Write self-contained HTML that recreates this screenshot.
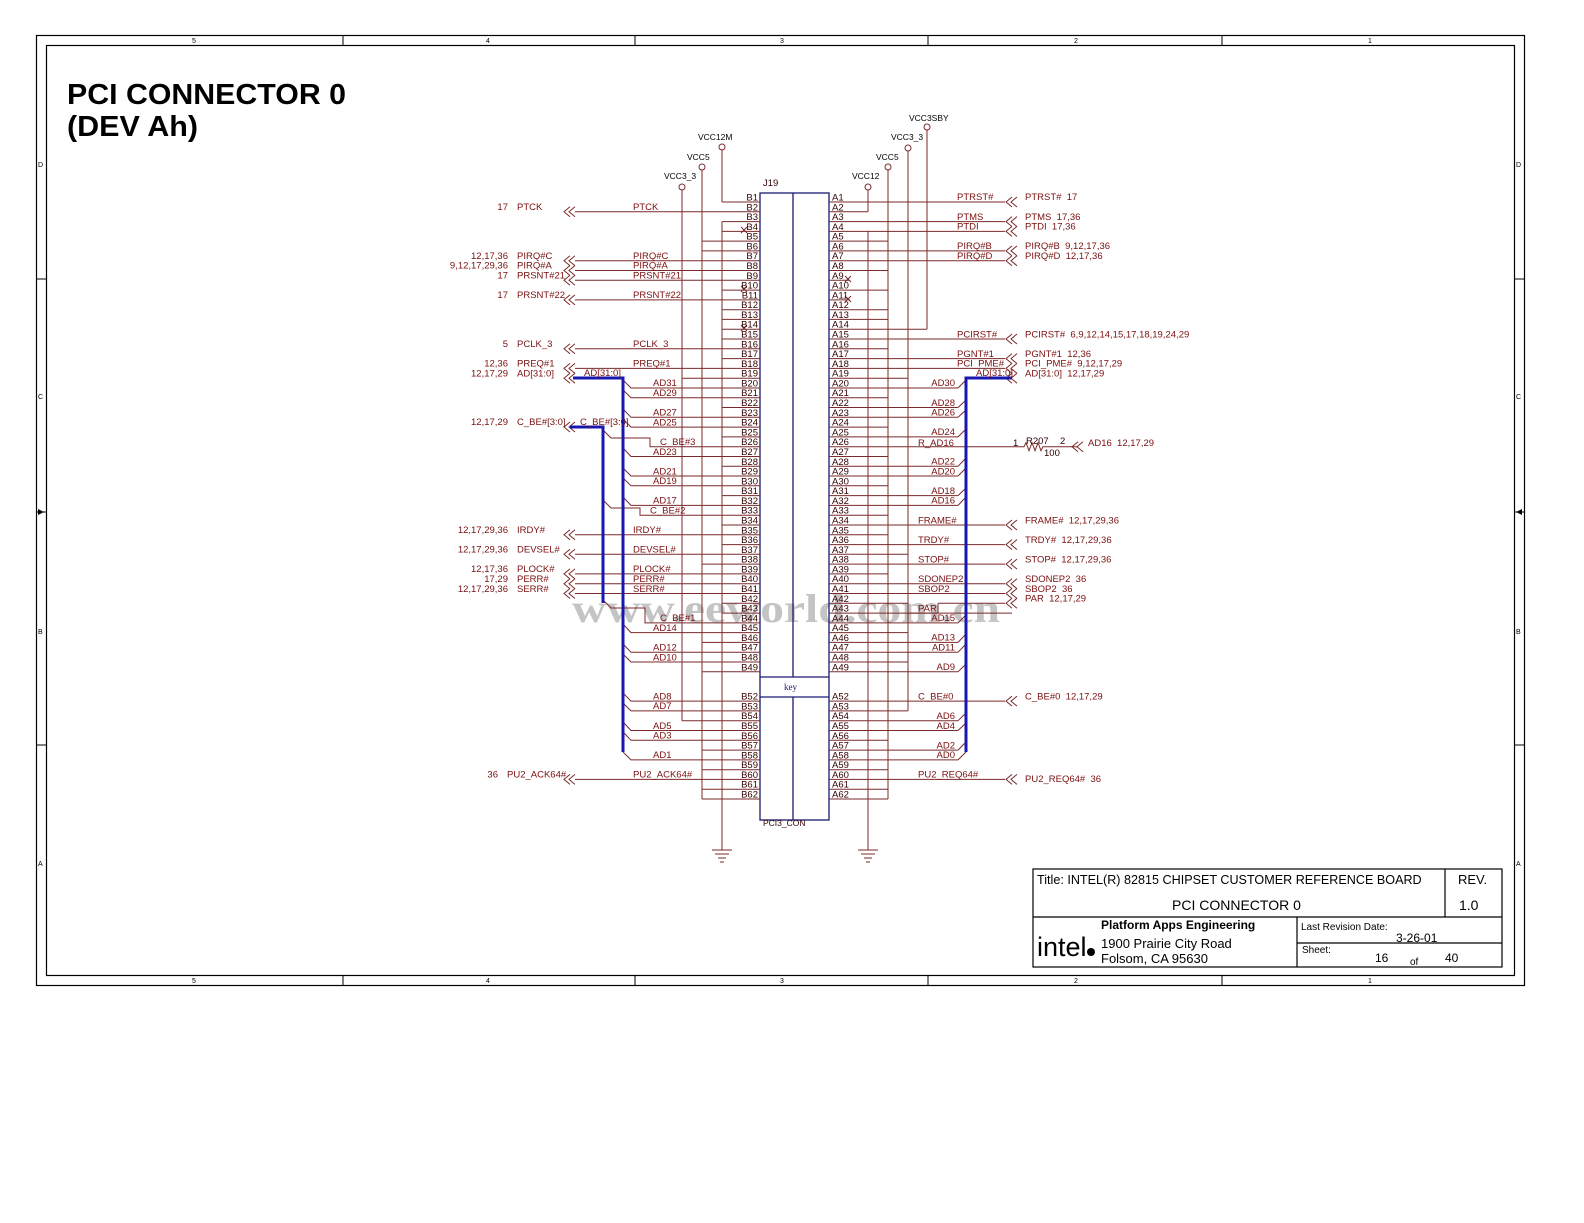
<!DOCTYPE html>
<html><head><meta charset="utf-8"><style>
html,body{margin:0;padding:0;background:#fff}
svg{display:block}
text{font-family:"Liberation Sans",sans-serif}
.t{font-size:9.5px;fill:#7a1010}
.p{font-size:9.5px;fill:#300}
.k{font-size:10px;fill:#000}
</style></head><body>
<svg width="1584" height="1223" viewBox="0 0 1584 1223" xmlns="http://www.w3.org/2000/svg">
<rect x="36.5" y="35.5" width="1488" height="950" fill="none" stroke="#000" stroke-width="1.2"/>
<rect x="46.5" y="45.5" width="1468" height="930" fill="none" stroke="#000" stroke-width="1.2"/>
<g stroke="#000" stroke-width="1">
<path d="M343 36V46M635 36V46M928 36V46M1222 36V46M343 975V985M635 975V985M928 975V985M1222 975V985M36 279H46M36 512H46M36 745H46M1514 279H1524M1514 512H1524M1514 745H1524"/>
</g>
<g class="k" font-size="7px" style="font-size:7px">
<text x="192" y="43">5</text><text x="486" y="43">4</text><text x="780" y="43">3</text><text x="1074" y="43">2</text><text x="1368" y="43">1</text>
<text x="192" y="983">5</text><text x="486" y="983">4</text><text x="780" y="983">3</text><text x="1074" y="983">2</text><text x="1368" y="983">1</text>
<text x="38" y="167">D</text><text x="38" y="399">C</text><text x="38" y="634">B</text><text x="38" y="866">A</text>
<text x="1516" y="167">D</text><text x="1516" y="399">C</text><text x="1516" y="634">B</text><text x="1516" y="866">A</text>
</g>
<path d="M38 509l6 3-6 3zM1522 509l-6 3 6 3z" fill="#000"/>
<text x="67" y="104" textLength="279" lengthAdjust="spacingAndGlyphs" style="font-size:29px;font-weight:bold" fill="#000">PCI CONNECTOR 0</text>
<text x="67" y="136" textLength="131" lengthAdjust="spacingAndGlyphs" style="font-size:29px;font-weight:bold" fill="#000">(DEV Ah)</text>

<text x="572" y="622" textLength="428" lengthAdjust="spacingAndGlyphs" style="font-family:'Liberation Serif',serif;font-size:40px;font-weight:bold" fill="#c4c4c4">www.eeworld.com.cn</text>

<g stroke="#1a1a70" stroke-width="1.3" fill="none">
<rect x="760" y="193" width="69" height="627"/>
<path d="M793 193V677M793 697V820M760 677H829M760 697H829"/>
</g>
<text x="784" y="690" style="font-size:9px;font-family:'Liberation Serif',serif" fill="#1a1a70">key</text>
<text x="763" y="186" class="p">J19</text>
<text x="763" y="826" class="p" style="font-size:8.5px">PCI3_CON</text>

<g stroke="#7a2a2a" stroke-width="1" fill="none">
<path d="M722 202H760M722 211.8H760M722 221.6H760M722 231.4H760M702 241.1H760M702 250.9H760M722 260.7H760M722 270.5H760M722 280.3H760M722 290.1H760M722 299.9H760M722 309.7H760M722 319.4H760M722 329.2H760M722 339H760M722 348.8H760M722 358.6H760M722 368.4H760M682 378.2H760M722 388H760M722 397.7H760M722 407.5H760M722 417.3H760M722 427.1H760M722 436.9H760M722 446.7H760M722 456.5H760M722 466.3H760M722 476H760M722 485.8H760M722 495.6H760M722 505.4H760M722 515.2H760M722 525H760M722 534.8H760M722 544.6H760M722 554.3H760M702 564.1H760M722 573.9H760M722 583.7H760M722 593.5H760M722 603.3H760M722 613.1H760M722 622.9H760M722 632.6H760M702 642.4H760M722 652.2H760M722 662H760M702 671.8H760M722 701.1H760M722 710.9H760M682 720.7H760M722 730.5H760M722 740.3H760M702 750.1H760M722 759.9H760M702 769.7H760M722 779.4H760M702 789.2H760M702 799H760"/>
<path d="M829 202H1005M829 211.8H868M829 221.6H1005M829 231.4H1005M829 241.1H888M829 250.9H1005M829 260.7H1005M829 270.5H888M829 280.3H850M829 290.1H888M829 299.9H850M829 309.7H888M829 319.4H888M829 329.2H927M829 339H1005M829 348.8H888M829 358.6H1005M829 368.4H1005M829 378.2H908M829 388H958M829 397.7H888M829 407.5H958M829 417.3H958M829 427.1H888M829 436.9H958M829 446.7H1013M829 456.5H888M829 466.3H958M829 476H958M829 485.8H888M829 495.6H958M829 505.4H958M829 515.2H888M829 525H1005M829 534.8H888M829 544.6H1005M829 554.3H908M829 564.1H1005M829 573.9H888M829 583.7H1005M829 593.5H1005M829 603.3H908M829 613.1H1005M829 622.9H958M829 632.6H908M829 642.4H958M829 652.2H958M829 662H908M829 671.8H958M829 701.1H1005M829 710.9H908M829 720.7H958M829 730.5H958M829 740.3H888M829 750.1H958M829 759.9H958M829 769.7H888M829 779.4H1005M829 789.2H888M829 799H888"/>
<path d="M575 211.8H722M575 260.7H722M575 270.5H722M575 280.3H722M575 299.9H722M575 348.8H722M575 368.4H722M575 534.8H722M575 554.3H722M575 573.9H722M575 583.7H722M575 593.5H722M575 779.4H722"/>
<path d="M623 380L631 388H722M623 390L631 397.7H722M623 409L631 417.3H722M623 419L631 427.1H722M623 448L631 456.5H722M623 468L631 476H722M623 478L631 485.8H722M623 497L631 505.4H722M623 624L631 632.6H722M623 644L631 652.2H722M623 654L631 662H722M623 693L631 701.1H722M623 703L631 710.9H722M623 722L631 730.5H722M623 732L631 740.3H722M623 752L631 759.9H722"/>
<path d="M603 430L611 438H650V446.7H722M603 500L611 508H640V515.2H722M603 600L611 608H645V622.9H722"/>
<path d="M958 388L966 380M958 407.5L966 400M958 417.3L966 410M958 436.9L966 429M958 466.3L966 458M958 476L966 468M958 495.6L966 488M958 505.4L966 497M958 622.9L966 615M958 642.4L966 634M958 652.2L966 644M958 671.8L966 664M958 720.7L966 713M958 730.5L966 723M958 750.1L966 742M958 759.9L966 752"/>
<path d="M908 613.1H938V603.3"/>
<path d="M682 190V720.7M702 170V799M722 150V202M722 221.6V850M868 190V211.8M868 231.4V850M888 170V799M908 151V710.9M927 130V329.2"/>
<path d="M1013 446.7H1024l2-4 3 8 3-8 3 8 3-8 3 8 2-4H1078"/>
<path d="M741 227l6 6M747 227l-6 6M741 286l6 6M747 286l-6 6M741 325l6 6M747 325l-6 6M845 276l6 6M851 276l-6 6M845 296l6 6M851 296l-6 6"/>
<path d="M712 850H732M715 854H729M718 858H726M720 862H724M858 850H878M861 854H875M864 858H872M866 862H870"/>
<path d="M575 206.8l-6 5 6 5M570 206.8l-6 5 6 5M575 255.7l-6 5 6 5M570 255.7l-6 5 6 5M575 265.5l-6 5 6 5M570 265.5l-6 5 6 5M575 275.3l-6 5 6 5M570 275.3l-6 5 6 5M575 294.9l-6 5 6 5M570 294.9l-6 5 6 5M575 343.8l-6 5 6 5M570 343.8l-6 5 6 5M575 363.4l-6 5 6 5M570 363.4l-6 5 6 5M575 373.2l-6 5 6 5M570 373.2l-6 5 6 5M575 422l-6 5 6 5M570 422l-6 5 6 5M575 529.8l-6 5 6 5M570 529.8l-6 5 6 5M575 549.3l-6 5 6 5M570 549.3l-6 5 6 5M575 568.9l-6 5 6 5M570 568.9l-6 5 6 5M575 578.7l-6 5 6 5M570 578.7l-6 5 6 5M575 588.5l-6 5 6 5M570 588.5l-6 5 6 5M575 774.4l-6 5 6 5M570 774.4l-6 5 6 5"/>
<path d="M1012 197l-6 5 6 5M1017 197l-6 5 6 5M1012 216.6l-6 5 6 5M1017 216.6l-6 5 6 5M1012 226.4l-6 5 6 5M1017 226.4l-6 5 6 5M1012 245.9l-6 5 6 5M1017 245.9l-6 5 6 5M1012 255.7l-6 5 6 5M1017 255.7l-6 5 6 5M1012 334l-6 5 6 5M1017 334l-6 5 6 5M1012 353.6l-6 5 6 5M1017 353.6l-6 5 6 5M1012 363.4l-6 5 6 5M1017 363.4l-6 5 6 5M1012 373.2l-6 5 6 5M1017 373.2l-6 5 6 5M1078 441.7l-6 5 6 5M1083 441.7l-6 5 6 5M1012 520l-6 5 6 5M1017 520l-6 5 6 5M1012 539.6l-6 5 6 5M1017 539.6l-6 5 6 5M1012 559.1l-6 5 6 5M1017 559.1l-6 5 6 5M1012 578.7l-6 5 6 5M1017 578.7l-6 5 6 5M1012 588.5l-6 5 6 5M1017 588.5l-6 5 6 5M1012 598.3l-6 5 6 5M1017 598.3l-6 5 6 5M1012 696.1l-6 5 6 5M1017 696.1l-6 5 6 5M1012 774.4l-6 5 6 5M1017 774.4l-6 5 6 5"/>
</g>
<path d="M1005 613.1H1012M938 603.3H1005" stroke="#7a2a2a" fill="none"/>
<g fill="#fff" stroke="#7a2a2a">
<circle cx="682" cy="187" r="3"/><circle cx="702" cy="167" r="3"/><circle cx="722" cy="147" r="3"/>
<circle cx="868" cy="187" r="3"/><circle cx="888" cy="167" r="3"/><circle cx="908" cy="148" r="3"/><circle cx="927" cy="127" r="3"/>
</g>
<g class="k" style="font-size:8.5px">
<text x="664" y="179">VCC3_3</text><text x="687" y="160">VCC5</text><text x="698" y="140">VCC12M</text>
<text x="852" y="179">VCC12</text><text x="876" y="160">VCC5</text><text x="891" y="140">VCC3_3</text><text x="909" y="121">VCC3SBY</text>
</g>
<g stroke="#1818b0" stroke-width="3" fill="none">
<path d="M573 378H623V752M570 427H603V603M1012 378H966V752"/>
</g>

<g class="p" text-anchor="end">
<text x="758" y="200.5">B1</text><text x="758" y="210.3">B2</text><text x="758" y="220.1">B3</text><text x="758" y="229.9">B4</text><text x="758" y="239.6">B5</text><text x="758" y="249.4">B6</text><text x="758" y="259.2">B7</text><text x="758" y="269">B8</text><text x="758" y="278.8">B9</text><text x="758" y="288.6">B10</text><text x="758" y="298.4">B11</text><text x="758" y="308.2">B12</text><text x="758" y="317.9">B13</text><text x="758" y="327.7">B14</text><text x="758" y="337.5">B15</text><text x="758" y="347.3">B16</text><text x="758" y="357.1">B17</text><text x="758" y="366.9">B18</text><text x="758" y="376.7">B19</text><text x="758" y="386.5">B20</text><text x="758" y="396.2">B21</text><text x="758" y="406">B22</text><text x="758" y="415.8">B23</text><text x="758" y="425.6">B24</text><text x="758" y="435.4">B25</text><text x="758" y="445.2">B26</text><text x="758" y="455">B27</text><text x="758" y="464.8">B28</text><text x="758" y="474.5">B29</text><text x="758" y="484.3">B30</text><text x="758" y="494.1">B31</text><text x="758" y="503.9">B32</text><text x="758" y="513.7">B33</text><text x="758" y="523.5">B34</text><text x="758" y="533.3">B35</text><text x="758" y="543.1">B36</text><text x="758" y="552.8">B37</text><text x="758" y="562.6">B38</text><text x="758" y="572.4">B39</text><text x="758" y="582.2">B40</text><text x="758" y="592">B41</text><text x="758" y="601.8">B42</text><text x="758" y="611.6">B43</text><text x="758" y="621.4">B44</text><text x="758" y="631.1">B45</text><text x="758" y="640.9">B46</text><text x="758" y="650.7">B47</text><text x="758" y="660.5">B48</text><text x="758" y="670.3">B49</text><text x="758" y="699.6">B52</text><text x="758" y="709.4">B53</text><text x="758" y="719.2">B54</text><text x="758" y="729">B55</text><text x="758" y="738.8">B56</text><text x="758" y="748.6">B57</text><text x="758" y="758.4">B58</text><text x="758" y="768.2">B59</text><text x="758" y="777.9">B60</text><text x="758" y="787.7">B61</text><text x="758" y="797.5">B62</text>
</g>
<g class="p">
<text x="832" y="200.5">A1</text><text x="832" y="210.3">A2</text><text x="832" y="220.1">A3</text><text x="832" y="229.9">A4</text><text x="832" y="239.6">A5</text><text x="832" y="249.4">A6</text><text x="832" y="259.2">A7</text><text x="832" y="269">A8</text><text x="832" y="278.8">A9</text><text x="832" y="288.6">A10</text><text x="832" y="298.4">A11</text><text x="832" y="308.2">A12</text><text x="832" y="317.9">A13</text><text x="832" y="327.7">A14</text><text x="832" y="337.5">A15</text><text x="832" y="347.3">A16</text><text x="832" y="357.1">A17</text><text x="832" y="366.9">A18</text><text x="832" y="376.7">A19</text><text x="832" y="386.5">A20</text><text x="832" y="396.2">A21</text><text x="832" y="406">A22</text><text x="832" y="415.8">A23</text><text x="832" y="425.6">A24</text><text x="832" y="435.4">A25</text><text x="832" y="445.2">A26</text><text x="832" y="455">A27</text><text x="832" y="464.8">A28</text><text x="832" y="474.5">A29</text><text x="832" y="484.3">A30</text><text x="832" y="494.1">A31</text><text x="832" y="503.9">A32</text><text x="832" y="513.7">A33</text><text x="832" y="523.5">A34</text><text x="832" y="533.3">A35</text><text x="832" y="543.1">A36</text><text x="832" y="552.8">A37</text><text x="832" y="562.6">A38</text><text x="832" y="572.4">A39</text><text x="832" y="582.2">A40</text><text x="832" y="592">A41</text><text x="832" y="601.8">A42</text><text x="832" y="611.6">A43</text><text x="832" y="621.4">A44</text><text x="832" y="631.1">A45</text><text x="832" y="640.9">A46</text><text x="832" y="650.7">A47</text><text x="832" y="660.5">A48</text><text x="832" y="670.3">A49</text><text x="832" y="699.6">A52</text><text x="832" y="709.4">A53</text><text x="832" y="719.2">A54</text><text x="832" y="729">A55</text><text x="832" y="738.8">A56</text><text x="832" y="748.6">A57</text><text x="832" y="758.4">A58</text><text x="832" y="768.2">A59</text><text x="832" y="777.9">A60</text><text x="832" y="787.7">A61</text><text x="832" y="797.5">A62</text>
</g>

<g class="t">
<text x="633" y="210">PTCK</text><text x="633" y="259">PIRQ#C</text><text x="633" y="268.5">PIRQ#A</text><text x="633" y="278.5">PRSNT#21</text><text x="633" y="298">PRSNT#22</text><text x="633" y="347">PCLK_3</text><text x="633" y="366.5">PREQ#1</text>
<text x="584" y="376">AD[31:0]</text><text x="580" y="425">C_BE#[3:0]</text>
<text x="633" y="533">IRDY#</text><text x="633" y="552.5">DEVSEL#</text><text x="633" y="572">PLOCK#</text><text x="633" y="582">PERR#</text><text x="633" y="592">SERR#</text><text x="633" y="777.5">PU2_ACK64#</text>
<text x="653" y="386">AD31</text><text x="653" y="396">AD29</text><text x="653" y="415.5">AD27</text><text x="653" y="425.5">AD25</text><text x="660" y="445">C_BE#3</text><text x="653" y="455">AD23</text><text x="653" y="474.5">AD21</text><text x="653" y="484">AD19</text><text x="653" y="503.5">AD17</text><text x="650" y="513.5">C_BE#2</text><text x="660" y="621">C_BE#1</text><text x="653" y="631">AD14</text><text x="653" y="650.5">AD12</text><text x="653" y="660.5">AD10</text><text x="653" y="699.5">AD8</text><text x="653" y="709">AD7</text><text x="653" y="729">AD5</text><text x="653" y="738.5">AD3</text><text x="653" y="758">AD1</text>
</g>
<g class="t">
<g text-anchor="end">
<text x="508" y="210">17</text><text x="508" y="259">12,17,36</text><text x="508" y="268.5">9,12,17,29,36</text><text x="508" y="278.5">17</text><text x="508" y="298">17</text><text x="508" y="347">5</text><text x="508" y="366.5">12,36</text><text x="508" y="376.5">12,17,29</text><text x="508" y="425">12,17,29</text><text x="508" y="533">12,17,29,36</text><text x="508" y="552.5">12,17,29,36</text><text x="508" y="572">12,17,36</text><text x="508" y="582">17,29</text><text x="508" y="592">12,17,29,36</text><text x="498" y="777.5">36</text>
</g>
<text x="517" y="210">PTCK</text><text x="517" y="259">PIRQ#C</text><text x="517" y="268.5">PIRQ#A</text><text x="517" y="278.5">PRSNT#21</text><text x="517" y="298">PRSNT#22</text><text x="517" y="347">PCLK_3</text><text x="517" y="366.5">PREQ#1</text><text x="517" y="376.5">AD[31:0]</text><text x="517" y="425">C_BE#[3:0]</text><text x="517" y="533">IRDY#</text><text x="517" y="552.5">DEVSEL#</text><text x="517" y="572">PLOCK#</text><text x="517" y="582">PERR#</text><text x="517" y="592">SERR#</text><text x="507" y="777.5">PU2_ACK64#</text>
</g>
<g class="t">
<text x="957" y="200">PTRST#</text><text x="957" y="220">PTMS</text><text x="957" y="229.5">PTDI</text><text x="957" y="249">PIRQ#B</text><text x="957" y="259">PIRQ#D</text><text x="957" y="337.5">PCIRST#</text><text x="957" y="357">PGNT#1</text><text x="957" y="366.5">PCI_PME#</text><text x="976" y="376">AD[31:0]</text>
<text x="918" y="446">R_AD16</text><text x="918" y="523.5">FRAME#</text><text x="918" y="543">TRDY#</text><text x="918" y="562.5">STOP#</text><text x="918" y="582">SDONEP2</text><text x="918" y="592">SBOP2</text><text x="918" y="611.5">PAR</text><text x="918" y="699.5">C_BE#0</text><text x="918" y="777.5">PU2_REQ64#</text>
<g text-anchor="end"><text x="955" y="386">AD30</text><text x="955" y="406">AD28</text><text x="955" y="415.5">AD26</text><text x="955" y="435">AD24</text><text x="955" y="464.5">AD22</text><text x="955" y="474.5">AD20</text><text x="955" y="494">AD18</text><text x="955" y="503.5">AD16</text><text x="955" y="621">AD15</text><text x="955" y="640.5">AD13</text><text x="955" y="650.5">AD11</text><text x="955" y="670">AD9</text><text x="955" y="719">AD6</text><text x="955" y="729">AD4</text><text x="955" y="748.5">AD2</text><text x="955" y="758">AD0</text></g>
</g>
<g class="t">
<text x="1025" y="200">PTRST#&#160;&#160;17</text><text x="1025" y="220">PTMS&#160;&#160;17,36</text><text x="1025" y="229.5">PTDI&#160;&#160;17,36</text><text x="1025" y="249">PIRQ#B&#160;&#160;9,12,17,36</text><text x="1025" y="259">PIRQ#D&#160;&#160;12,17,36</text><text x="1025" y="337.5">PCIRST#&#160;&#160;6,9,12,14,15,17,18,19,24,29</text><text x="1025" y="357">PGNT#1&#160;&#160;12,36</text><text x="1025" y="366.5">PCI_PME#&#160;&#160;9,12,17,29</text><text x="1025" y="376.5">AD[31:0]&#160;&#160;12,17,29</text>
<text x="1025" y="523.5">FRAME#&#160;&#160;12,17,29,36</text><text x="1025" y="543">TRDY#&#160;&#160;12,17,29,36</text><text x="1025" y="562.5">STOP#&#160;&#160;12,17,29,36</text><text x="1025" y="582">SDONEP2&#160;&#160;36</text><text x="1025" y="592">SBOP2&#160;&#160;36</text><text x="1025" y="601.5">PAR&#160;&#160;12,17,29</text><text x="1025" y="699.5">C_BE#0&#160;&#160;12,17,29</text><text x="1025" y="782">PU2_REQ64#&#160;&#160;36</text>
<text x="1088" y="446">AD16&#160;&#160;12,17,29</text>
</g>
<g class="p"><text x="1013" y="446">1</text><text x="1026" y="444">R207</text><text x="1060" y="444">2</text><text x="1044" y="456">100</text></g>

<g stroke="#000" stroke-width="1.2" fill="none">
<rect x="1033" y="869" width="469" height="98"/>
<path d="M1445 869V917M1033 917H1502M1297 917V967M1297 943H1502"/>
</g>
<g fill="#000">
<text x="1037" y="884" style="font-size:12.6px">Title: INTEL(R) 82815 CHIPSET CUSTOMER REFERENCE BOARD</text>
<text x="1172" y="910" style="font-size:14px">PCI CONNECTOR 0</text>
<text x="1458" y="884" style="font-size:13px">REV.</text>
<text x="1459" y="910" style="font-size:14px">1.0</text>
<text x="1101" y="929" style="font-size:12px;font-weight:bold">Platform Apps Engineering</text>
<text x="1101" y="948" style="font-size:13px">1900 Prairie City Road</text>
<text x="1101" y="963" style="font-size:13px">Folsom, CA  95630</text>
<text x="1037" y="956" style="font-size:27px">intel</text>
<circle cx="1091" cy="952" r="4"/>
<text x="1301" y="930" style="font-size:10px">Last Revision Date:</text>
<text x="1396" y="942" style="font-size:12px">3-26-01</text>
<text x="1302" y="953" style="font-size:10px">Sheet:</text>
<text x="1375" y="962" style="font-size:12px">16</text>
<text x="1410" y="965" style="font-size:10px">of</text>
<text x="1445" y="962" style="font-size:12px">40</text>
</g>
</svg>
</body></html>
